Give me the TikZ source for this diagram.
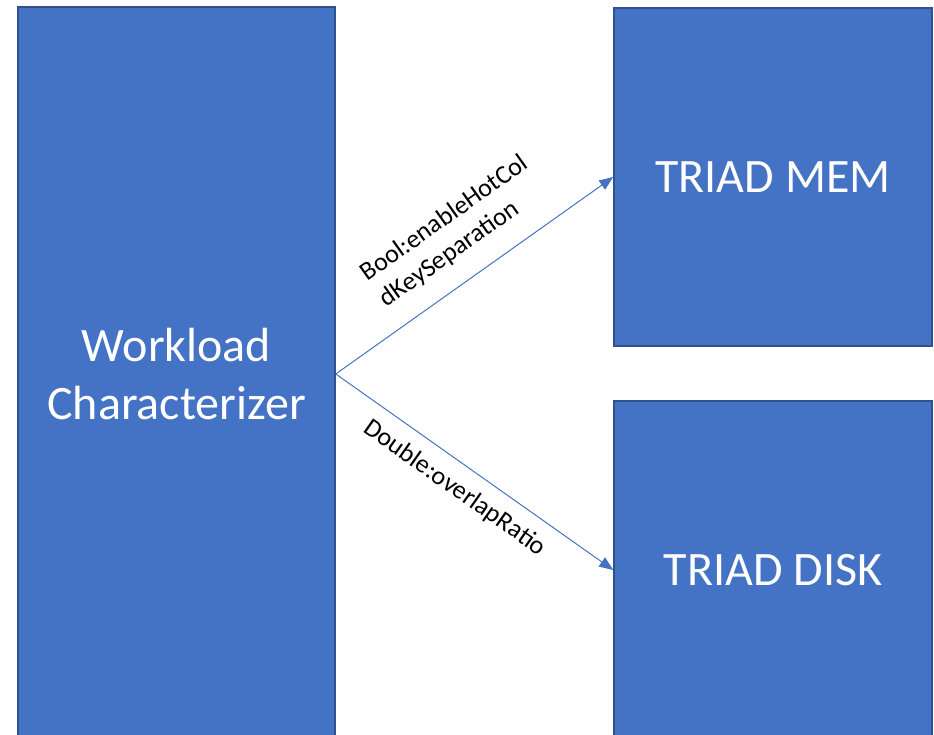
\documentclass[tikz,border=0pt]{standalone}
\usepackage{fontspec}
\setmainfont{Carlito}
\usetikzlibrary{arrows.meta}
\definecolor{officeBlue}{RGB}{68,114,196}
\definecolor{edgeBlue}{RGB}{47,82,143}
\tikzset{
  block/.style={draw=edgeBlue, line width=1.5pt, fill=officeBlue, text=white,
    align=center, inner sep=0pt, font=\fontsize{48}{58}\selectfont},
  link/.style={officeBlue, line width=1pt, -{Triangle[length=14pt,width=11pt]}},
  tag/.style={text=black, sloped, inner sep=2pt, font=\fontsize{26}{32}\selectfont}
}
\begin{document}
\begin{tikzpicture}[x=1pt,y=-1pt]
  \useasboundingbox (0,0) rectangle (934,735);
  % boxes
  \node[block, minimum width=317pt, minimum height=734pt] (wc) at (176.5,374) {Workload\\Characterizer};
  \node[block, minimum width=318pt, minimum height=338pt] (mem) at (773,177) {TRIAD MEM};
  \node[block, minimum width=318pt, minimum height=338pt] (disk) at (773,570) {TRIAD DISK};
  % flags
  \draw[link] (wc.east) -- (mem.west)
    node[tag, align=left, pos=0.525, above=18pt] {Bool:enableHotCol\\dKeySeparation};
  \draw[link] (wc.east) -- (disk.west)
    node[tag, pos=0.48, below=11pt] {Double:overlapRatio};
\end{tikzpicture}
\end{document}
